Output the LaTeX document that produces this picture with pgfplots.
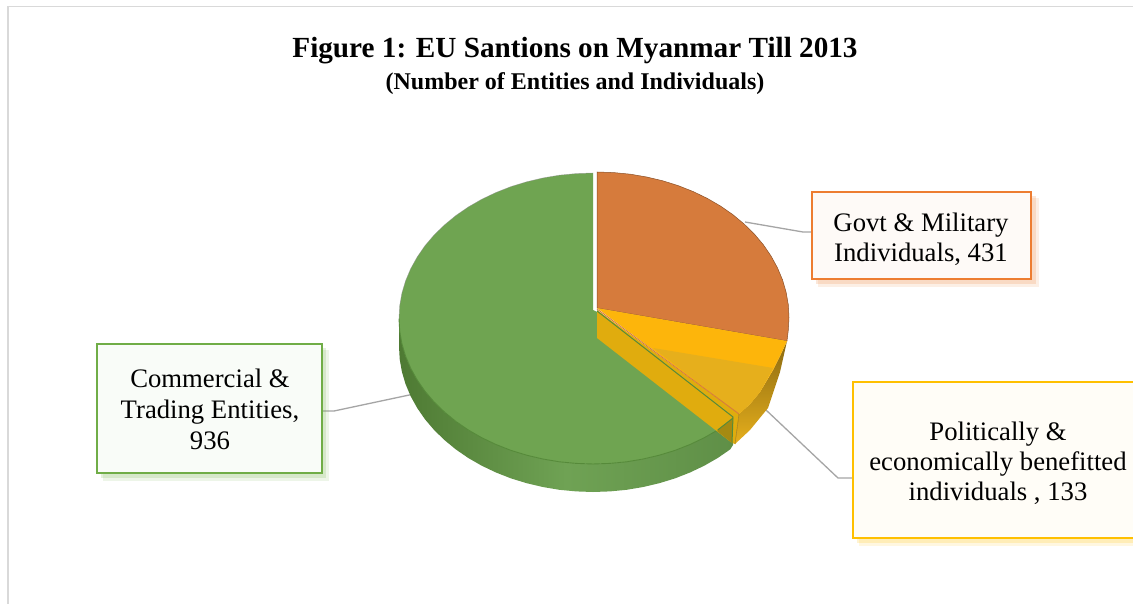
\documentclass[border=0pt]{standalone}
\usepackage{pgfplots}
\pgfplotsset{compat=1.18}
\usepackage{fontspec}
\setmainfont{Liberation Serif}
\definecolor{cOr}{HTML}{D67B3C}
\definecolor{cYe}{HTML}{FDB50B}
\definecolor{cYl}{HTML}{E6AF1C}
\definecolor{cYs}{HTML}{E0AC0E}
\definecolor{cGr}{HTML}{6FA451}
\definecolor{cGd}{HTML}{568A3A}
\definecolor{cFrame}{HTML}{D9D9D9}
\definecolor{cLead}{HTML}{A5A5A5}
\definecolor{bOr}{HTML}{ED7D31}
\definecolor{bGr}{HTML}{70AD47}
\definecolor{bYe}{HTML}{FFC000}
\definecolor{sL}{HTML}{4E7A33}
\definecolor{sM}{HTML}{6FA254}
\definecolor{sR}{HTML}{5F8F47}
\newcommand{\lab}{\fontsize{26.7}{30}\selectfont}
\begin{document}
\begin{tikzpicture}
\begin{axis}[
  width=1133pt,height=604pt,scale only axis,
  xmin=0,xmax=1133,ymin=0,ymax=604,y dir=reverse,
  hide axis,
]
% page
\addplot[fill=white,draw=none] coordinates {(0,0)(1133,0)(1133,604)(0,604)} -- cycle;
% frame
\addplot[cFrame,line width=1.6pt] coordinates {(8,604)(8,6.5)(1133,6.5)};
% leader lines
\addplot[cLead,line width=1.3pt] coordinates {(745,222)(803,232)(812,232)};
\addplot[cLead,line width=1.3pt] coordinates {(322,411)(334,411)(414,394)};
\addplot[cLead,line width=1.3pt] coordinates {(766,410)(838,478)(853,478)};
% green side
\addplot[draw=none,left color=sL,right color=sR,middle color=sM] coordinates {
(399,318.5)(399.7,331.2)(401.9,343.8)(405.6,356.2)(410.7,368.3)(417.2,380)(425,391.3)(434.1,402)(444.4,412)(455.8,421.4)(468.3,430)(481.7,437.7)(496,444.5)(511,450.4)(526.7,455.2)(542.8,459)(559.3,461.8)(576.1,463.4)(593,464)(609.9,463.4)(626.7,461.8)(643.2,459)(659.3,455.2)(675,450.4)(690,444.5)(704.3,437.7)(717.7,430)(730.2,421.4)(733,419)
(733,445)(730.2,449.4)(717.7,458)(704.3,465.7)(690,472.5)(675,478.4)(659.3,483.2)(643.2,487)(626.7,489.8)(609.9,491.4)(593,492)(576.1,491.4)(559.3,489.8)(542.8,487)(526.7,483.2)(511,478.4)(496,472.5)(481.7,465.7)(468.3,458)(455.8,449.4)(444.4,440)(434.1,430)(425,419.3)(417.2,408)(410.7,396.3)(405.6,384.2)(401.9,371.8)(399.7,359.2)(399,346.5)} -- cycle;
% green top face
\addplot[fill=cGr,draw=none] coordinates {
(593,173)(576.1,173.6)(559.3,175.2)(542.8,178)(526.7,181.8)(511,186.6)(496,192.5)(481.7,199.3)(468.3,207)(455.8,215.6)(444.4,225)(434.1,235)(425,245.7)(417.2,257)(410.7,268.7)(405.6,280.8)(401.9,293.2)(399.7,305.8)(399,318.5)
(399.7,331.2)(401.9,343.8)(405.6,356.2)(410.7,368.3)(417.2,380)(425,391.3)(434.1,402)(444.4,412)(455.8,421.4)(468.3,430)(481.7,437.7)(496,444.5)(511,450.4)(526.7,455.2)(542.8,459)(559.3,461.8)(576.1,463.4)(593,464)(609.9,463.4)(626.7,461.8)(643.2,459)(659.3,455.2)(675,450.4)(690,444.5)(704.3,437.7)(717.7,430)(730.2,421.4)(733,419)
(597,312)(593,310)} -- cycle;
% green rim
\addplot[cGd,line width=0.9pt] coordinates {(399,318.5)(399.7,331.2)(401.9,343.8)(405.6,356.2)(410.7,368.3)(417.2,380)(425,391.3)(434.1,402)(444.4,412)(455.8,421.4)(468.3,430)(481.7,437.7)(496,444.5)(511,450.4)(526.7,455.2)(542.8,459)(559.3,461.8)(576.1,463.4)(593,464)(609.9,463.4)(626.7,461.8)(643.2,459)(659.3,455.2)(675,450.4)(690,444.5)(704.3,437.7)(717.7,430)(730.2,421.4)(733,419)};
\addplot[black!45,line width=0.5pt,opacity=.6] coordinates {(593,173)(576.1,173.6)(559.3,175.2)(542.8,178)(526.7,181.8)(511,186.6)(496,192.5)(481.7,199.3)(468.3,207)(455.8,215.6)(444.4,225)(434.1,235)(425,245.7)(417.2,257)(410.7,268.7)(405.6,280.8)(401.9,293.2)(399.7,305.8)(399,318.5)};
% orange face
\addplot[fill=cOr,draw=black!35!cOr,line width=0.5pt] coordinates {
(597,172)(613.7,172.6)(630.3,174.2)(646.7,177)(662.7,180.8)(678.1,185.6)(693,191.5)(707.1,198.3)(720.4,206)(732.8,214.6)(744.1,224)(754.3,234)(763.3,244.7)(771,256)(777.4,267.7)(782.5,279.8)(786.1,292.2)(788.3,304.8)(789,317.5)(788.3,330)(787,341)(597,308)} -- cycle;
% yellow outer side
\addplot[draw=none,shading angle=60,top color=black!40!cYl,bottom color=cYl] coordinates {
(787,341)(781,354)(773,370)(760,392)(750,404)(739,414)(735,444)(750,430)(768,408)(780,372)(785,350)} -- cycle;
% yellow face
\addplot[fill=cYe,draw=none] coordinates {(597,308)(787,341)(781,354)(773,370)(760,392)(750,404)(739,414)} -- cycle;
\addplot[fill=cYl,draw=none] coordinates {(653,348)(773,368)(760,392)(750,404)(739,414)} -- cycle;
% yellow inner side, seen beside the green slice
\addplot[fill=cYs,draw=none] coordinates {(597,310)(597,338)(732,443)(735,444)(739,414)} -- cycle;
\addplot[cOr,line width=0.9pt] coordinates {(597,309)(739,414)};
\addplot[black!30!cYl,line width=0.5pt] coordinates {(735,444)(739,414)};
\addplot[fill=black!20!cYs!85!cGd,draw=none] coordinates {(717,431)(733,418)(732,443)} -- cycle;
\addplot[cGd,line width=1pt] coordinates {(597,311)(733,417)(732,443)};
\addplot[cGd,line width=1pt] coordinates {(717.7,430)(733,418)};
% label boxes: shadow then box
\addplot[fill=bOr,opacity=.12,draw=none] coordinates {(818,198)(1039,198)(1039,287)(818,287)} -- cycle;
\addplot[fill=bOr,opacity=.18,draw=none] coordinates {(816,196)(1036,196)(1036,284)(816,284)} -- cycle;
\addplot[fill=bGr,opacity=.12,draw=none] coordinates {(103,350)(329,350)(329,481)(103,481)} -- cycle;
\addplot[fill=bGr,opacity=.18,draw=none] coordinates {(101,348)(326,348)(326,478)(101,478)} -- cycle;
\addplot[fill=bYe,opacity=.12,draw=none] coordinates {(859,388)(1140,388)(1140,546)(859,546)} -- cycle;
\addplot[fill=bYe,opacity=.18,draw=none] coordinates {(857,386)(1140,386)(1140,543)(857,543)} -- cycle;
\addplot[fill=white!96!bOr,draw=bOr,line width=2.4pt] coordinates {(812,192)(1031,192)(1031,279)(812,279)} -- cycle;
\addplot[fill=white!96!bGr,draw=bGr,line width=2.4pt] coordinates {(97,344)(322,344)(322,473)(97,473)} -- cycle;
\addplot[fill=white!97!bYe,draw=bYe,line width=2.4pt] coordinates {(853,382)(1140,382)(1140,538)(853,538)} -- cycle;
% text
\node[font=\fontsize{29.2}{32}\selectfont\bfseries] at (axis cs:575,51) {Figure 1: EU Santions on Myanmar Till 2013};
\node[font=\fontsize{24}{27}\selectfont\bfseries] at (axis cs:575,84) {(Number of Entities and Individuals)};
\node[font=\lab,align=center] at (axis cs:921,239) {Govt \& Military\\Individuals, 431};
\node[font=\fontsize{26.7}{31}\selectfont,align=center] at (axis cs:210,409) {Commercial \&\\Trading Entities,\\936};
\node[font=\lab,align=center] at (axis cs:998,463) {Politically \&\\economically benefitted\\individuals , 133};
\end{axis}
\end{tikzpicture}
\end{document}
